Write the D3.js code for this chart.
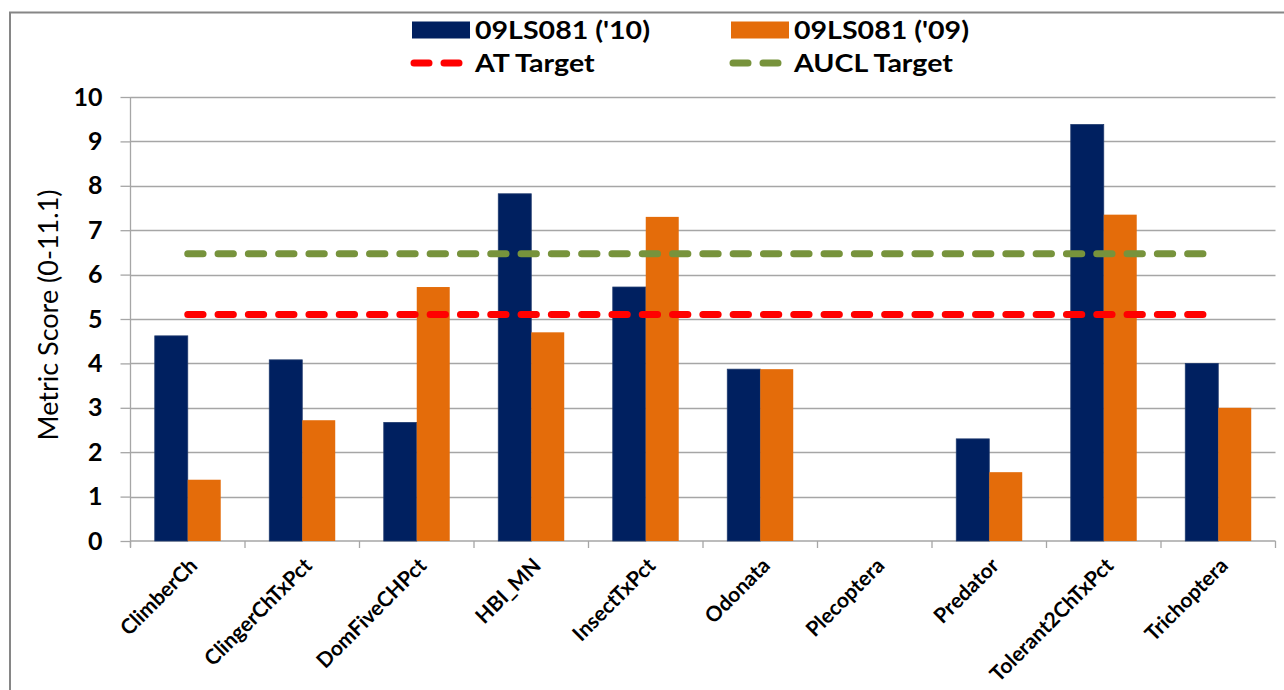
<!DOCTYPE html>
<html>
<head>
<meta charset="utf-8">
<script src="https://cdn.jsdelivr.net/npm/d3@7"></script>
<style>
  html, body { margin: 0; padding: 0; background: #fff; }
  svg { display: block; }
</style>
</head>
<body>
<svg id="chart" width="1284" height="690"></svg>
<script>
const categories = ["ClimberCh", "ClingerChTxPct", "DomFiveCHPct", "HBI_MN", "InsectTxPct",
  "Odonata", "Plecoptera", "Predator", "Tolerant2ChTxPct", "Trichoptera"];
const seriesNames = ["09LS081 ('10)", "09LS081 ('09)"];
const values2010 = [4.62, 4.08, 2.67, 7.82, 5.72, 3.87, 0, 2.30, 9.38, 4.00];
const values2009 = [1.38, 2.72, 5.72, 4.70, 7.30, 3.87, 0, 1.55, 7.35, 3.00];
const targetNames = ["AT Target", "AUCL Target"];
const targetValues = [5.1, 6.47];
const yTicks = [0, 1, 2, 3, 4, 5, 6, 7, 8, 9, 10];
const yTitle = "Metric Score (0-11.1)";

const barColors = ["#002060", "#E46C0A"];
const lineColors = ["#FF0000", "#77933C"];
const FONT = "Lato, 'Open Sans', sans-serif";

const svg = d3.select("#chart");
const plot = { left: 130.5, right: 1275.5, top: 97, bottom: 541 };

// frame
svg.append("rect").attr("x", 10).attr("y", 12.5).attr("width", 1300).attr("height", 700)
  .attr("fill", "#fff").attr("stroke", "#868686").attr("stroke-width", 2);

const x = d3.scaleBand().domain(categories).range([plot.left, plot.right]).paddingInner(0).paddingOuter(0);
const bw = x.bandwidth();
const x1 = d3.scaleBand().domain(seriesNames).range([bw * 0.212, bw * 0.788]);
const y = d3.scaleLinear().domain([0, 10]).range([plot.bottom, plot.top]);

// gridlines
svg.append("g").selectAll("line").data(yTicks.filter(d => d > 0)).join("line")
  .attr("x1", plot.left).attr("x2", plot.right)
  .attr("y1", d => Math.round(y(d)) + 0.5).attr("y2", d => Math.round(y(d)) + 0.5)
  .attr("stroke", "#A6A6A6").attr("stroke-width", 1.3);

// y axis
const yAxis = d3.axisLeft(y).tickValues(yTicks).tickSize(10).tickPadding(18).tickFormat(d3.format("d"));
const gy = svg.append("g").attr("transform", `translate(${plot.left},0)`).call(yAxis);
gy.select(".domain").attr("stroke", "#A6A6A6").attr("stroke-width", 1.3)
  .attr("d", `M0,${plot.top}V${plot.bottom + 6}`);
gy.selectAll(".tick line").attr("stroke", "#A6A6A6").attr("stroke-width", 1.3);
gy.selectAll(".tick text").attr("font-family", FONT)
  .attr("font-weight", 700).attr("font-size", 25).attr("fill", "#000");

// x axis
const xAxis = d3.axisBottom(x).tickSize(0).tickFormat("");
const gx = svg.append("g").attr("transform", `translate(0,${plot.bottom})`).call(xAxis);
gx.select(".domain").attr("stroke", "#A6A6A6").attr("stroke-width", 1.3)
  .attr("d", `M${plot.left},0H${plot.right}`);
const bounds = categories.map(c => x(c)).concat([x(categories[categories.length - 1]) + bw]);
gx.append("g").selectAll("line").data(bounds).join("line")
  .attr("x1", d => d).attr("x2", d => d).attr("y1", 0).attr("y2", 7)
  .attr("stroke", "#A6A6A6").attr("stroke-width", 1.3);

// x labels
svg.append("g").selectAll("text").data(categories).join("text")
  .attr("transform", d => `translate(${x(d) + bw / 2 + 11},${plot.bottom + 26}) rotate(-45)`)
  .attr("text-anchor", "end")
  .attr("font-family", FONT).attr("font-weight", 700)
  .attr("font-size", 21).attr("fill", "#000")
  .text(d => d);

// y title
svg.append("text")
  .attr("transform", `translate(58,315) rotate(-90)`)
  .attr("text-anchor", "middle")
  .attr("font-family", FONT).attr("font-size", 27).attr("fill", "#000")
  .text(yTitle);

// bars
const seriesData = [values2010, values2009];
seriesData.forEach((vals, si) => {
  svg.append("g").selectAll("rect").data(categories).join("rect")
    .attr("x", d => x(d) + x1(seriesNames[si]))
    .attr("width", x1.bandwidth())
    .attr("y", (d, i) => y(vals[i]))
    .attr("height", (d, i) => y(0) - y(vals[i]))
    .attr("fill", barColors[si])
    .attr("stroke", si === 0 ? "#1F3A6E" : "none").attr("stroke-width", 0.8);
});

// target lines
const line = d3.line().x(d => d[0]).y(d => d[1]);
targetValues.forEach((v, i) => {
  const x0 = x(categories[0]) + bw / 2;
  const xN = x(categories[categories.length - 1]) + bw / 2;
  svg.append("path")
    .attr("d", line([[x0, y(v)], [xN - 10, y(v)]]))
    .attr("fill", "none").attr("stroke", lineColors[i]).attr("stroke-width", 7)
    .attr("stroke-linecap", "round").attr("stroke-dasharray", "15.3 15");
});

// legend
const legendCols = [412, 731];
const legendRows = [30, 63];
const lg = svg.append("g");
function legendText(xp, yp, s) {
  lg.append("text")
    .attr("transform", `translate(${xp},${yp}) scale(1.19,1)`)
    .attr("dy", "0.36em")
    .attr("font-family", FONT).attr("font-weight", 700)
    .attr("font-size", 24).attr("fill", "#000").text(s);
}
seriesNames.forEach((s, i) => {
  lg.append("rect").attr("x", legendCols[i]).attr("y", legendRows[0] - 8.5)
    .attr("width", 58).attr("height", 17).attr("fill", barColors[i]);
  legendText(legendCols[i] + 63, legendRows[0], s);
});
targetNames.forEach((s, i) => {
  lg.append("path").attr("d", line([[legendCols[i] + 2, legendRows[1]], [legendCols[i] + 50, legendRows[1]]]))
    .attr("fill", "none").attr("stroke", lineColors[i]).attr("stroke-width", 7)
    .attr("stroke-linecap", "round").attr("stroke-dasharray", "15 15");
  legendText(legendCols[i] + 63, legendRows[1], s);
});
</script>
</body>
</html>
